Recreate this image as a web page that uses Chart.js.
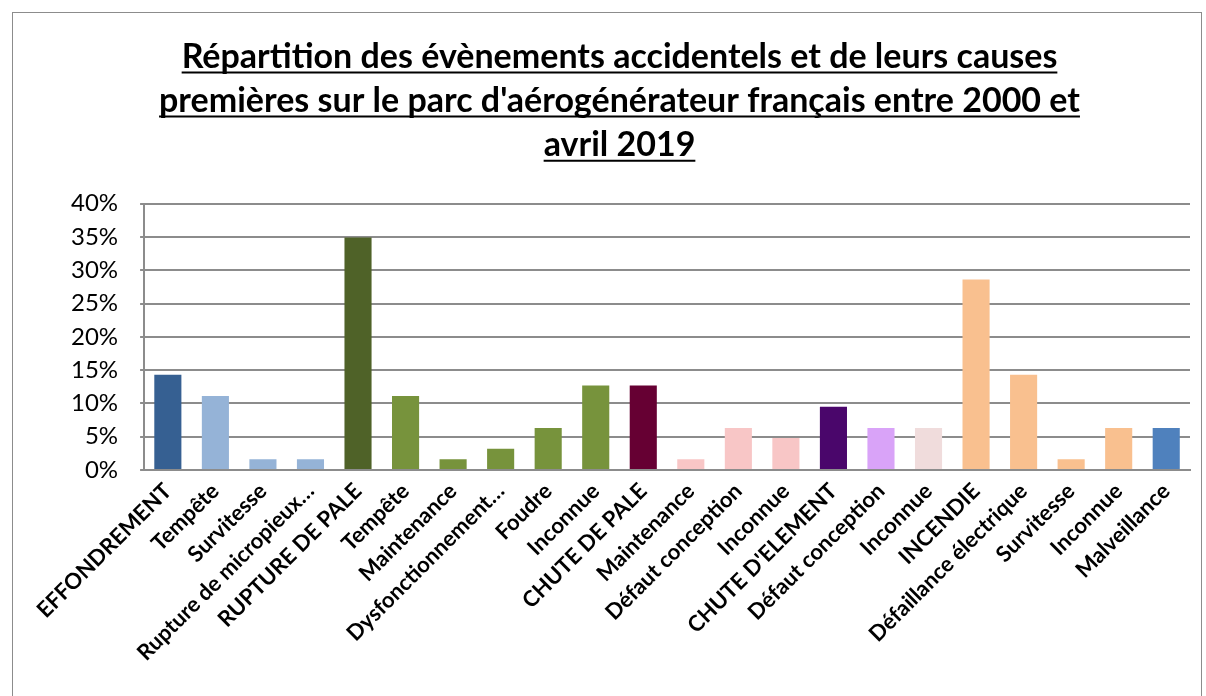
<!DOCTYPE html>
<html>
<head>
<meta charset="utf-8">
<script src="https://cdn.jsdelivr.net/npm/chart.js@4.4.0/dist/chart.umd.min.js"></script>
<style>
  body { margin: 0; background: #fff; }
  #box {
    position: absolute; left: 12px; top: 12px;
    width: 1190px; height: 700px;
    border: 1px solid #8c8c8c; box-sizing: border-box;
  }
</style>
</head>
<body>
<div id="box"><canvas id="chart"></canvas></div>
<script>
// libellés des catégories
const categories = [
    'EFFONDREMENT', 'Tempête', 'Survitesse', 'Rupture de micropieux…',
    'RUPTURE DE PALE', 'Tempête', 'Maintenance', 'Dysfonctionnement…',
    'Foudre', 'Inconnue', 'CHUTE DE PALE', 'Maintenance',
    'Défaut conception', 'Inconnue', "CHUTE D'ELEMENT", 'Défaut conception',
    'Inconnue', 'INCENDIE', 'Défaillance électrique', 'Survitesse',
    'Inconnue', 'Malveillance'
];

// part des évènements (%)
const shares = [
    14.3, 11.1, 1.6, 1.6,
    34.9, 11.1, 1.6, 3.2,
    6.3, 12.7, 12.7, 1.6,
    6.3, 4.8, 9.5, 6.3,
    6.3, 28.6, 14.3, 1.6,
    6.3, 6.3
];

// couleur de chaque barre
const barColors = [
    '#366092', '#95b3d7', '#95b3d7', '#95b3d7',
    '#4f6228', '#77933c', '#77933c', '#77933c',
    '#77933c', '#77933c', '#660033', '#f8c6c6',
    '#f8c6c6', '#f8c6c6', '#4a066b', '#d9a3f8',
    '#f0dcdc', '#f9c08f', '#f9c08f', '#f9c08f',
    '#f9c08f', '#4f81bd'
];

const titleLines = [
    'Répartition des évènements accidentels et de leurs causes',
    "premières sur le parc d'aérogénérateur français entre 2000 et",
    'avril 2019'
];

const FONT = 'Lato, "Open Sans", sans-serif';

// soulignement du titre
const underlinePlugin = {
    id: 'underlineTitle',
    afterDraw(chart) {
        const tb = chart.titleBlock;
        if (!tb) return;
        const opts = chart.options.plugins.title;
        const size = opts.font.size;
        const lh = size * opts.font.lineHeight;
        const ctx = chart.ctx;
        ctx.save();
        ctx.font = `bold ${size}px ${FONT}`;
        ctx.strokeStyle = '#000';
        ctx.lineWidth = 2;
        const centre = tb.left + tb.width / 2;
        titleLines.forEach((line, i) => {
            const w = ctx.measureText(line).width;
            const y = tb.top + opts.padding.top + lh * i + lh / 2 + size * 0.45;
            ctx.beginPath();
            ctx.moveTo(centre - w / 2, y);
            ctx.lineTo(centre + w / 2, y);
            ctx.stroke();
        });
        ctx.restore();
    }
};

const ctx = document.getElementById('chart');
new Chart(ctx, {
    type: 'bar',
    data: {
        labels: categories,
        datasets: [{
            data: shares,
            backgroundColor: barColors,
            barPercentage: 0.57,
            categoryPercentage: 1
        }]
    },
    options: {
        responsive: true,
        maintainAspectRatio: false,
        animation: false,
        layout: { padding: { left: 36, right: 11, top: 0, bottom: 37 } },
        plugins: {
            legend: { display: false },
            tooltip: { enabled: false },
            title: {
                display: true,
                text: titleLines,
                color: '#000',
                font: { family: FONT, size: 34, weight: 'bold', lineHeight: 1.3 },
                padding: { top: 22, bottom: 36 }
            }
        },
        scales: {
            x: {
                grid: { display: false, drawTicks: false },
                border: { color: '#8c8c8c', width: 2 },
                ticks: {
                    color: '#000',
                    autoSkip: false,
                    minRotation: 45,
                    maxRotation: 45,
                    padding: 8,
                    font: { family: FONT, size: 22, weight: 'bold' }
                }
            },
            y: {
                min: 0,
                max: 40,
                grid: { color: '#8c8c8c', lineWidth: 2, tickLength: 4 },
                border: { color: '#8c8c8c', width: 2 },
                ticks: {
                    stepSize: 5,
                    color: '#000',
                    padding: 22,
                    font: { family: FONT, size: 24 },
                    callback: v => v + '%'
                }
            }
        }
    },
    plugins: [underlinePlugin]
});
</script>
</body>
</html>
